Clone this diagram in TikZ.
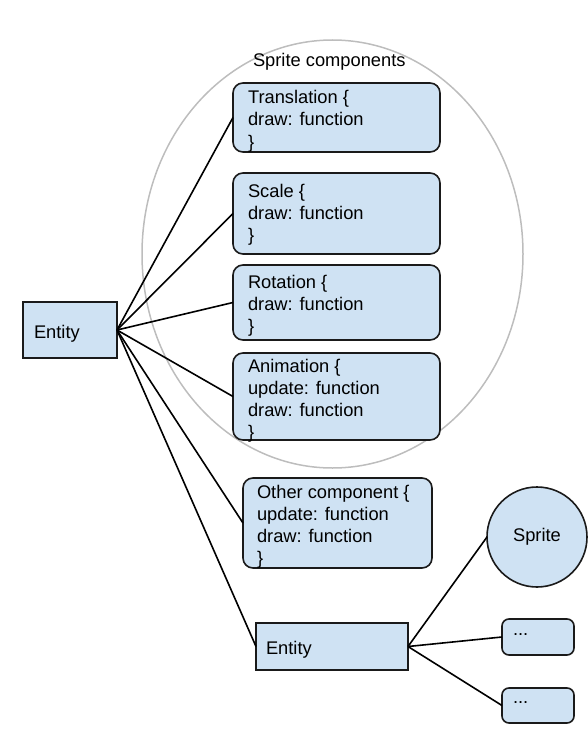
\documentclass[tikz,border=0pt]{standalone}
\usepackage{fontspec}
\setmainfont{Liberation Sans}
\usetikzlibrary{shapes.geometric}
\definecolor{boxblue}{HTML}{CFE2F3}
\definecolor{ringgray}{HTML}{BDBDBD}
\definecolor{edgedark}{HTML}{1A1A1A}
\begin{document}
\begin{tikzpicture}[x=1pt,y=-1pt,
  compbox/.style={draw=edgedark, line width=1.6pt, fill=boxblue, rounded corners=10pt, inner sep=0, outer sep=0},
  plainbox/.style={draw=edgedark, line width=1.6pt, fill=boxblue, inner sep=0, outer sep=0},
  txt/.style={anchor=north west, inner sep=0, outer sep=0, align=left, font=\fontsize{18.3}{22}\selectfont},
  link/.style={draw=black, line width=1.6pt},
  ring/.style={draw=ringgray, line width=1.5pt, ellipse, inner sep=0}]
\useasboundingbox (0,0) rectangle (587,733);

\node[ring, minimum width=381pt, minimum height=428pt] (grp) at (332.5,254) {};

\node[plainbox, minimum width=94pt, minimum height=56pt] (ent) at (70,330) {};
\node[compbox, minimum width=207pt, minimum height=69pt] (tr) at (336.5,117.5) {};
\node[compbox, minimum width=207pt, minimum height=81pt] (sc) at (336.5,213.5) {};
\node[compbox, minimum width=207pt, minimum height=75pt] (ro) at (336.5,302.5) {};
\node[compbox, minimum width=207pt, minimum height=87pt] (an) at (336.5,396.5) {};
\node[compbox, minimum width=189pt, minimum height=90pt] (ot) at (337.5,523) {};
\node[plainbox, minimum width=152pt, minimum height=47pt] (ent2) at (332,646.5) {};
\node[draw=edgedark, line width=1.6pt, fill=boxblue, circle, inner sep=0, outer sep=0, minimum size=100pt, font=\fontsize{18.3}{22}\selectfont] (spr) at (537,537) {Sprite};
\node[compbox, rounded corners=7pt, minimum width=72pt, minimum height=36pt] (d1) at (538,637) {};
\node[compbox, rounded corners=7pt, minimum width=72pt, minimum height=35pt] (d2) at (538,705.5) {};

\node[txt] (grpt) at (253,51.6) {\strut Sprite components};
\node[txt] (entt) at (34,322.6) {\strut Entity};
\node[txt] (trt) at (248,88.6) {\strut Translation \{\\draw: function\\\}};
\node[txt] (sct) at (248,181.6) {\strut Scale \{\\draw: function\\\}};
\node[txt] (rot) at (248,272.6) {\strut Rotation \{\\draw: function\\\}};
\node[txt] (ant) at (248,356.6) {\strut Animation \{\\update: function\\draw: function\\\}};
\node[txt] (ott) at (257,482.6) {\strut Other component \{\\update: function\\draw: function\\\}};
\node[txt] (ent2t) at (266,638.6) {\strut Entity};
\node[txt] (d1t) at (513,619.6) {\strut ...};
\node[txt] (d2t) at (513,687.6) {\strut ...};

\draw[link] (ent.east) -- (tr.west);
\draw[link] (ent.east) -- (sc.west);
\draw[link] (ent.east) -- (ro.west);
\draw[link] (ent.east) -- (an.west);
\draw[link] (ent.east) -- (ot.west);
\draw[link] (ent.east) -- (ent2.west);
\draw[link] (ent2.east) -- (spr.west);
\draw[link] (ent2.east) -- (d1.west);
\draw[link] (ent2.east) -- (d2.west);
\end{tikzpicture}
\end{document}
